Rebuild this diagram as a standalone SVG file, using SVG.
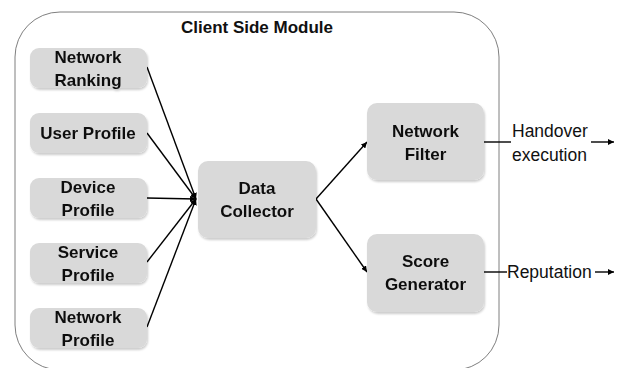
<svg xmlns="http://www.w3.org/2000/svg" width="625" height="368" viewBox="0 0 625 368">
<style>
.node{fill:#d9d9d9;stroke:none}
.lbl{font-family:"Liberation Sans",Arial,sans-serif;font-weight:bold;font-size:17px;fill:#111;text-anchor:middle}
.txt{font-family:"Liberation Sans",Arial,sans-serif;font-size:17.5px;fill:#111}
.con{stroke:#000;stroke-width:1.4;fill:none}
</style>
<defs>
<marker id="arr" viewBox="0 0 10 10" refX="10" refY="5" markerWidth="6" markerHeight="6" orient="auto" markerUnits="userSpaceOnUse">
<path d="M0,0 L10,5 L0,10 z" fill="#000"/>
</marker>
<filter id="sh" x="-10%" y="-10%" width="130%" height="130%">
<feGaussianBlur in="SourceAlpha" stdDeviation="1.2"/>
<feOffset dx="1" dy="1.5"/>
<feComponentTransfer><feFuncA type="linear" slope="0.2"/></feComponentTransfer>
<feMerge><feMergeNode/><feMergeNode in="SourceGraphic"/></feMerge>
</filter>
</defs>
<rect width="625" height="368" fill="#fff"/>
<g id="module">
<rect x="15" y="12" width="484" height="358" rx="45" ry="45" fill="none" stroke="#7f7f7f" stroke-width="1"/>
<text class="lbl" x="257" y="33">Client Side Module</text>
</g>
<g id="connectors">
<line class="con" x1="147" y1="67" x2="196" y2="199" marker-end="url(#arr)"/>
<line class="con" x1="147" y1="133" x2="196" y2="199" marker-end="url(#arr)"/>
<line class="con" x1="147" y1="198" x2="196" y2="199" marker-end="url(#arr)"/>
<line class="con" x1="147" y1="262" x2="196" y2="199" marker-end="url(#arr)"/>
<line class="con" x1="147" y1="327" x2="196" y2="199" marker-end="url(#arr)"/>
<line class="con" x1="316" y1="199" x2="367" y2="142" marker-end="url(#arr)"/>
<line class="con" x1="316" y1="199" x2="367" y2="272" marker-end="url(#arr)"/>
<line class="con" x1="484" y1="142" x2="511" y2="142"/>
<line class="con" x1="591" y1="142" x2="614" y2="142" marker-end="url(#arr)"/>
<line class="con" x1="484" y1="272" x2="507" y2="272"/>
<line class="con" x1="595" y1="272" x2="614" y2="272" marker-end="url(#arr)"/>
<text class="txt" x="512" y="137">Handover</text>
<text class="txt" x="512" y="161">execution</text>
<text class="txt" x="507" y="278">Reputation</text>
</g>
<g id="network-ranking" filter="url(#sh)">
<rect class="node" x="30" y="48" width="117" height="40" rx="9"/>
<text class="lbl" x="88" y="62.5">Network</text>
<text class="lbl" x="88" y="85.5">Ranking</text>
</g>
<g id="user-profile" filter="url(#sh)">
<rect class="node" x="30" y="113" width="117" height="40" rx="9"/>
<text class="lbl" x="88" y="139">User Profile</text>
</g>
<g id="device-profile" filter="url(#sh)">
<rect class="node" x="30" y="178" width="117" height="40" rx="9"/>
<text class="lbl" x="88" y="192.5">Device</text>
<text class="lbl" x="88" y="215.5">Profile</text>
</g>
<g id="service-profile" filter="url(#sh)">
<rect class="node" x="30" y="243" width="117" height="40" rx="9"/>
<text class="lbl" x="88" y="257.5">Service</text>
<text class="lbl" x="88" y="280.5">Profile</text>
</g>
<g id="network-profile" filter="url(#sh)">
<rect class="node" x="30" y="308" width="117" height="40" rx="9"/>
<text class="lbl" x="88" y="322.5">Network</text>
<text class="lbl" x="88" y="345.5">Profile</text>
</g>
<g id="data-collector" filter="url(#sh)">
<rect class="node" x="198" y="161" width="118" height="77" rx="10"/>
<text class="lbl" x="257" y="194">Data</text>
<text class="lbl" x="257" y="217">Collector</text>
</g>
<g id="network-filter" filter="url(#sh)">
<rect class="node" x="367" y="103" width="117" height="77" rx="10"/>
<text class="lbl" x="425.5" y="136.5">Network</text>
<text class="lbl" x="425.5" y="159.5">Filter</text>
</g>
<g id="score-generator" filter="url(#sh)">
<rect class="node" x="367" y="234" width="117" height="78" rx="10"/>
<text class="lbl" x="425.5" y="267">Score</text>
<text class="lbl" x="425.5" y="290">Generator</text>
</g>
</svg>
